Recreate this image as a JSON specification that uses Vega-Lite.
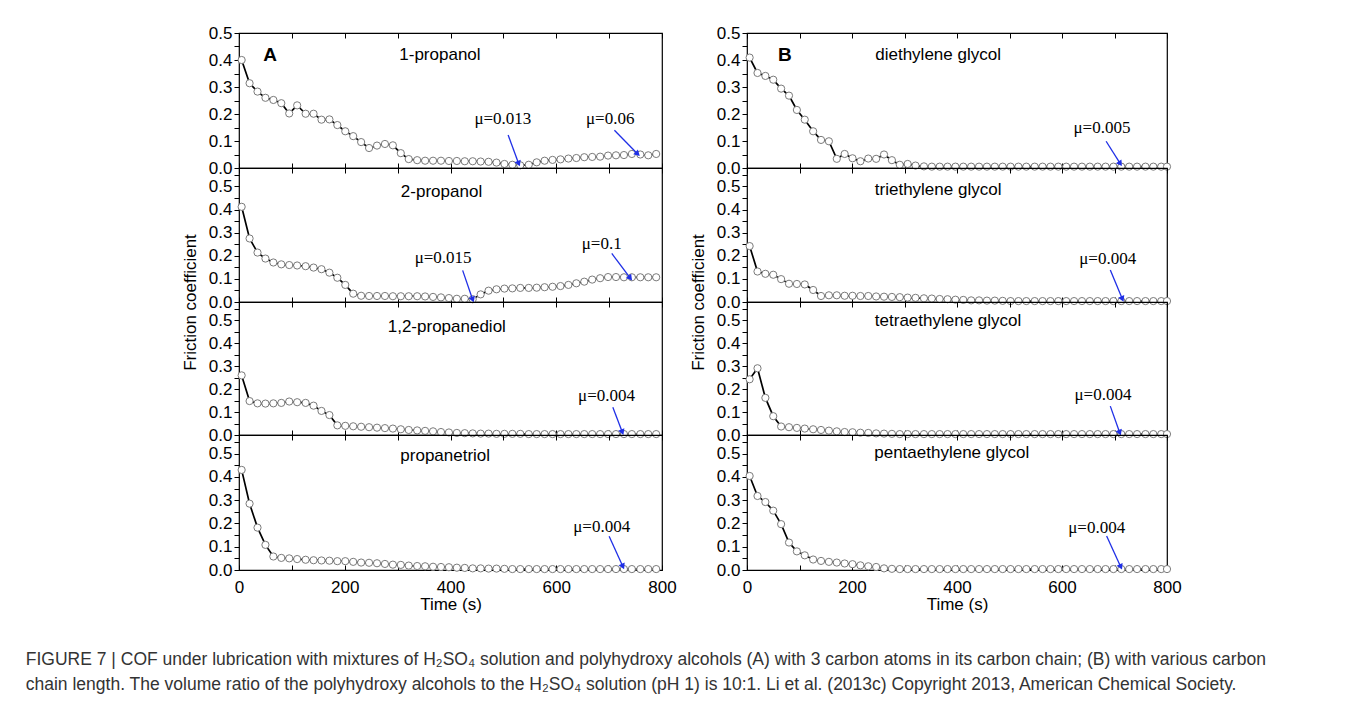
{
  "$schema": "https://vega.github.io/schema/vega-lite/v6.json",
  "background": "white",
  "padding": {"left": 25, "top": 23, "right": 5, "bottom": 5},
  "datasets": {
    "cof": [
      {"t":5,"a1":0.400,"a2":0.412,"a3":0.260,"a4":0.430,"b1":0.409,"b2":0.242,"b3":0.243,"b4":0.404},
      {"t":20,"a1":0.314,"a2":0.275,"a3":0.148,"a4":0.285,"b1":0.352,"b2":0.132,"b3":0.291,"b4":0.318},
      {"t":35,"a1":0.283,"a2":0.214,"a3":0.138,"a4":0.182,"b1":0.341,"b2":0.122,"b3":0.162,"b4":0.292},
      {"t":50,"a1":0.260,"a2":0.188,"a3":0.137,"a4":0.108,"b1":0.327,"b2":0.118,"b3":0.082,"b4":0.255},
      {"t":65,"a1":0.252,"a2":0.171,"a3":0.138,"a4":0.058,"b1":0.294,"b2":0.099,"b3":0.037,"b4":0.197},
      {"t":80,"a1":0.240,"a2":0.163,"a3":0.140,"a4":0.052,"b1":0.268,"b2":0.079,"b3":0.034,"b4":0.118},
      {"t":95,"a1":0.202,"a2":0.160,"a3":0.146,"a4":0.050,"b1":0.215,"b2":0.078,"b3":0.031,"b4":0.080},
      {"t":110,"a1":0.232,"a2":0.158,"a3":0.143,"a4":0.047,"b1":0.179,"b2":0.076,"b3":0.028,"b4":0.063},
      {"t":126,"a1":0.201,"a2":0.155,"a3":0.140,"a4":0.044,"b1":0.136,"b2":0.052,"b3":0.025,"b4":0.045},
      {"t":141,"a1":0.201,"a2":0.149,"a3":0.128,"a4":0.042,"b1":0.104,"b2":0.026,"b3":0.022,"b4":0.039},
      {"t":156,"a1":0.179,"a2":0.142,"a3":0.105,"a4":0.041,"b1":0.099,"b2":0.029,"b3":0.019,"b4":0.035},
      {"t":171,"a1":0.180,"a2":0.127,"a3":0.087,"a4":0.040,"b1":0.034,"b2":0.029,"b3":0.016,"b4":0.032},
      {"t":186,"a1":0.159,"a2":0.105,"a3":0.042,"a4":0.038,"b1":0.052,"b2":0.027,"b3":0.013,"b4":0.028},
      {"t":201,"a1":0.136,"a2":0.074,"a3":0.040,"a4":0.038,"b1":0.036,"b2":0.027,"b3":0.012,"b4":0.025},
      {"t":216,"a1":0.118,"a2":0.036,"a3":0.038,"a4":0.035,"b1":0.025,"b2":0.026,"b3":0.010,"b4":0.020},
      {"t":231,"a1":0.096,"a2":0.027,"a3":0.036,"a4":0.032,"b1":0.035,"b2":0.026,"b3":0.009,"b4":0.016},
      {"t":246,"a1":0.074,"a2":0.026,"a3":0.034,"a4":0.031,"b1":0.034,"b2":0.024,"b3":0.007,"b4":0.013},
      {"t":261,"a1":0.083,"a2":0.026,"a3":0.032,"a4":0.029,"b1":0.050,"b2":0.023,"b3":0.006,"b4":0.007},
      {"t":276,"a1":0.089,"a2":0.026,"a3":0.030,"a4":0.026,"b1":0.029,"b2":0.022,"b3":0.005,"b4":0.005},
      {"t":291,"a1":0.084,"a2":0.025,"a3":0.028,"a4":0.023,"b1":0.012,"b2":0.021,"b3":0.004,"b4":0.004},
      {"t":306,"a1":0.055,"a2":0.025,"a3":0.025,"a4":0.022,"b1":0.015,"b2":0.019,"b3":0.004,"b4":0.004},
      {"t":321,"a1":0.033,"a2":0.025,"a3":0.022,"a4":0.019,"b1":0.009,"b2":0.018,"b3":0.004,"b4":0.004},
      {"t":337,"a1":0.029,"a2":0.025,"a3":0.020,"a4":0.017,"b1":0.006,"b2":0.016,"b3":0.004,"b4":0.004},
      {"t":352,"a1":0.027,"a2":0.024,"a3":0.018,"a4":0.016,"b1":0.005,"b2":0.015,"b3":0.004,"b4":0.004},
      {"t":367,"a1":0.027,"a2":0.022,"a3":0.016,"a4":0.014,"b1":0.005,"b2":0.013,"b3":0.004,"b4":0.004},
      {"t":382,"a1":0.027,"a2":0.020,"a3":0.013,"a4":0.013,"b1":0.005,"b2":0.012,"b3":0.004,"b4":0.004},
      {"t":397,"a1":0.026,"a2":0.017,"a3":0.011,"a4":0.012,"b1":0.005,"b2":0.010,"b3":0.004,"b4":0.004},
      {"t":412,"a1":0.026,"a2":0.014,"a3":0.009,"a4":0.010,"b1":0.005,"b2":0.009,"b3":0.004,"b4":0.004},
      {"t":427,"a1":0.025,"a2":0.014,"a3":0.008,"a4":0.009,"b1":0.005,"b2":0.007,"b3":0.004,"b4":0.004},
      {"t":442,"a1":0.025,"a2":0.012,"a3":0.007,"a4":0.007,"b1":0.005,"b2":0.007,"b3":0.004,"b4":0.004},
      {"t":457,"a1":0.024,"a2":0.033,"a3":0.006,"a4":0.007,"b1":0.005,"b2":0.006,"b3":0.004,"b4":0.004},
      {"t":472,"a1":0.023,"a2":0.049,"a3":0.006,"a4":0.006,"b1":0.005,"b2":0.006,"b3":0.004,"b4":0.004},
      {"t":487,"a1":0.020,"a2":0.055,"a3":0.005,"a4":0.006,"b1":0.005,"b2":0.005,"b3":0.004,"b4":0.004},
      {"t":502,"a1":0.015,"a2":0.058,"a3":0.005,"a4":0.005,"b1":0.005,"b2":0.004,"b3":0.004,"b4":0.004},
      {"t":517,"a1":0.012,"a2":0.059,"a3":0.005,"a4":0.004,"b1":0.005,"b2":0.004,"b3":0.004,"b4":0.004},
      {"t":532,"a1":0.010,"a2":0.061,"a3":0.005,"a4":0.004,"b1":0.005,"b2":0.004,"b3":0.004,"b4":0.004},
      {"t":548,"a1":0.012,"a2":0.061,"a3":0.004,"a4":0.004,"b1":0.005,"b2":0.004,"b3":0.004,"b4":0.004},
      {"t":563,"a1":0.021,"a2":0.062,"a3":0.004,"a4":0.004,"b1":0.005,"b2":0.004,"b3":0.004,"b4":0.004},
      {"t":578,"a1":0.027,"a2":0.064,"a3":0.004,"a4":0.004,"b1":0.005,"b2":0.004,"b3":0.004,"b4":0.004},
      {"t":593,"a1":0.030,"a2":0.066,"a3":0.004,"a4":0.004,"b1":0.005,"b2":0.004,"b3":0.004,"b4":0.004},
      {"t":608,"a1":0.032,"a2":0.069,"a3":0.004,"a4":0.004,"b1":0.005,"b2":0.004,"b3":0.004,"b4":0.004},
      {"t":623,"a1":0.035,"a2":0.074,"a3":0.004,"a4":0.004,"b1":0.005,"b2":0.004,"b3":0.004,"b4":0.004},
      {"t":638,"a1":0.037,"a2":0.081,"a3":0.004,"a4":0.004,"b1":0.005,"b2":0.004,"b3":0.004,"b4":0.004},
      {"t":653,"a1":0.040,"a2":0.088,"a3":0.004,"a4":0.004,"b1":0.005,"b2":0.004,"b3":0.004,"b4":0.004},
      {"t":668,"a1":0.041,"a2":0.097,"a3":0.004,"a4":0.004,"b1":0.005,"b2":0.004,"b3":0.004,"b4":0.004},
      {"t":683,"a1":0.042,"a2":0.103,"a3":0.004,"a4":0.004,"b1":0.005,"b2":0.004,"b3":0.004,"b4":0.004},
      {"t":698,"a1":0.046,"a2":0.108,"a3":0.004,"a4":0.004,"b1":0.005,"b2":0.004,"b3":0.004,"b4":0.004},
      {"t":713,"a1":0.047,"a2":0.108,"a3":0.004,"a4":0.004,"b1":0.005,"b2":0.004,"b3":0.004,"b4":0.004},
      {"t":728,"a1":0.048,"a2":0.107,"a3":0.004,"a4":0.004,"b1":0.005,"b2":0.004,"b3":0.004,"b4":0.004},
      {"t":743,"a1":0.052,"a2":0.107,"a3":0.004,"a4":0.004,"b1":0.005,"b2":0.004,"b3":0.004,"b4":0.004},
      {"t":759,"a1":0.050,"a2":0.107,"a3":0.004,"a4":0.004,"b1":0.005,"b2":0.004,"b3":0.004,"b4":0.004},
      {"t":774,"a1":0.047,"a2":0.107,"a3":0.004,"a4":0.004,"b1":0.005,"b2":0.004,"b3":0.004,"b4":0.004},
      {"t":789,"a1":0.052,"a2":0.107,"a3":0.004,"a4":0.004,"b1":0.005,"b2":0.004,"b3":0.004,"b4":0.004},
      {"t":800,"a1":null,"a2":null,"a3":null,"a4":null,"b1":0.005,"b2":0.004,"b3":0.004,"b4":0.004}
    ],
    "titles": [
      {"p":"A1","text":"1-propanol","x":380,"y":0.42},
      {"p":"A2","text":"2-propanol","x":383,"y":0.478},
      {"p":"A3","text":"1,2-propanediol","x":393,"y":0.47},
      {"p":"A4","text":"propanetriol","x":390,"y":0.49},
      {"p":"B1","text":"diethylene glycol","x":364,"y":0.42},
      {"p":"B2","text":"triethylene glycol","x":364,"y":0.484},
      {"p":"B3","text":"tetraethylene glycol","x":383,"y":0.496},
      {"p":"B4","text":"pentaethylene glycol","x":390,"y":0.502}
    ],
    "letters": [
      {"p":"A1","text":"A","x":59,"y":0.42},
      {"p":"B1","text":"B","x":72,"y":0.42}
    ],
    "mu": [
      {"p":"A1","text":"μ=0.013","x":499,"y":0.181},
      {"p":"A1","text":"μ=0.06","x":702,"y":0.181},
      {"p":"A2","text":"μ=0.015","x":386,"y":0.191},
      {"p":"A2","text":"μ=0.1","x":686,"y":0.249},
      {"p":"A3","text":"μ=0.004","x":695,"y":0.171},
      {"p":"A4","text":"μ=0.004","x":686,"y":0.185},
      {"p":"B1","text":"μ=0.005","x":676,"y":0.147},
      {"p":"B2","text":"μ=0.004","x":687,"y":0.187},
      {"p":"B3","text":"μ=0.004","x":678,"y":0.173},
      {"p":"B4","text":"μ=0.004","x":666,"y":0.179}
    ],
    "arrows": [
      {"p":"A1","id":"A1a","x1":509,"y1":0.122,"x2":529,"y2":0.016},
      {"p":"A1","id":"A1b","x1":710,"y1":0.14,"x2":754,"y2":0.052},
      {"p":"A2","id":"A2a","x1":423,"y1":0.137,"x2":442,"y2":0.01},
      {"p":"A2","id":"A2b","x1":705,"y1":0.21,"x2":740,"y2":0.103},
      {"p":"A3","id":"A3","x1":707,"y1":0.121,"x2":725,"y2":0.012},
      {"p":"A4","id":"A4","x1":700,"y1":0.145,"x2":726,"y2":0.015},
      {"p":"B1","id":"B1","x1":684,"y1":0.099,"x2":711,"y2":0.016},
      {"p":"B2","id":"B2","x1":692,"y1":0.139,"x2":715,"y2":0.013},
      {"p":"B3","id":"B3","x1":692,"y1":0.126,"x2":710,"y2":0.01},
      {"p":"B4","id":"B4","x1":685,"y1":0.146,"x2":712,"y2":0.013}
    ]
  },
  "title": {
    "text": [
      "FIGURE 7 | COF under lubrication with mixtures of H₂SO₄ solution and polyhydroxy alcohols (A) with 3 carbon atoms in its carbon chain; (B) with various carbon",
      "chain length. The volume ratio of the polyhydroxy alcohols to the H₂SO₄ solution (pH 1) is 10:1. Li et al. (2013c) Copyright 2013, American Chemical Society."
    ],
    "orient": "bottom",
    "anchor": "start",
    "font": "Liberation Sans",
    "fontSize": 17.5,
    "fontWeight": "normal",
    "color": "#333333",
    "lineHeight": 25,
    "offset": 38,
    "dx": -155
  },
  "config": {
    "view": {"stroke": "black", "strokeWidth": 1.2},
    "axis": {
      "labelFont": "Liberation Sans",
      "labelFontSize": 17,
      "labelColor": "black",
      "tickColor": "black",
      "tickWidth": 1,
      "titleFont": "Liberation Sans",
      "titleFontSize": 17,
      "titleFontWeight": "normal",
      "titleColor": "black",
      "grid": false,
      "labelFlush": false,
      "labelOverlap": false
    },
    "line": {"color": "black", "strokeWidth": 1.7},
    "text": {"font": "Liberation Sans", "fontSize": 17, "color": "black"},
    "rule": {"color": "#1f2fe6", "strokeWidth": 1.3}
  },
  "spacing": 11,
  "hconcat": [
    {
      "spacing": 0,
      "bounds": "flush",
      "vconcat": [
        {
          "width": 423, "height": 135,
          "resolve": {"axis": {"x": "independent", "y": "independent"}},
          "layer": [
            {"data": {"name": "cof"}, "mark": {"type": "line"},
             "encoding": {
               "x": {"field": "t", "type": "quantitative", "scale": {"domain": [0, 800], "nice": false},
                     "axis": {"orient": "bottom", "values": [0,100,200,300,400,500,600,700,800], "labels": false, "tickSize": -5, "domain": false, "title": null}},
               "y": {"field": "a1", "type": "quantitative", "scale": {"domain": [0, 0.5], "nice": false},
                     "axis": {"orient": "left", "values": [0,0.05,0.1,0.15,0.2,0.25,0.3,0.35,0.4,0.45,0.5], "format": ".1f", "labelExpr": "abs(datum.value*10-round(datum.value*10))<0.001 ? datum.label : ''", "tickSize": 5, "labelPadding": 2, "domain": false, "title": null}}}},
            {"data": {"name": "cof"}, "mark": {"type": "point", "shape": "circle", "filled": true, "fill": "white", "stroke": "#7a7a7a", "strokeWidth": 1, "size": 52, "opacity": 1},
             "encoding": {
               "x": {"field": "t", "type": "quantitative", "axis": {"orient": "top", "values": [0,100,200,300,400,500,600,700,800], "labels": false, "tickSize": -5, "domain": false, "title": null}},
               "y": {"field": "a1", "type": "quantitative", "axis": null}}},
            {"data": {"name": "titles"}, "transform": [{"filter": "datum.p==='A1'"}], "mark": {"type": "text"},
             "encoding": {"x": {"field": "x", "type": "quantitative", "axis": null}, "y": {"field": "y", "type": "quantitative", "axis": null}, "text": {"field": "text"}}},
            {"data": {"name": "letters"}, "transform": [{"filter": "datum.p==='A1'"}], "mark": {"type": "text", "fontSize": 19, "fontWeight": "bold"},
             "encoding": {"x": {"field": "x", "type": "quantitative", "axis": null}, "y": {"field": "y", "type": "quantitative", "axis": null}, "text": {"field": "text"}}},
            {"data": {"name": "mu"}, "transform": [{"filter": "datum.p==='A1'"}], "mark": {"type": "text", "font": "Liberation Serif", "fontSize": 17},
             "encoding": {"x": {"field": "x", "type": "quantitative", "axis": null}, "y": {"field": "y", "type": "quantitative", "axis": null}, "text": {"field": "text"}}},
            {"data": {"name": "arrows"}, "transform": [{"filter": "datum.p==='A1'"}], "mark": {"type": "rule"},
             "encoding": {"x": {"field": "x1", "type": "quantitative", "axis": null}, "y": {"field": "y1", "type": "quantitative", "axis": null}, "x2": {"field": "x2"}, "y2": {"field": "y2"}}},
            {"data": {"name": "arrows"}, "transform": [{"filter": "datum.id==='A1a'"}], "mark": {"type": "point", "shape": "triangle-up", "filled": true, "color": "#1f2fe6", "size": 45, "opacity": 1, "angle": 158},
             "encoding": {"x": {"field": "x2", "type": "quantitative", "axis": null}, "y": {"field": "y2", "type": "quantitative", "axis": null}}},
            {"data": {"name": "arrows"}, "transform": [{"filter": "datum.id==='A1b'"}], "mark": {"type": "point", "shape": "triangle-up", "filled": true, "color": "#1f2fe6", "size": 45, "opacity": 1, "angle": 134},
             "encoding": {"x": {"field": "x2", "type": "quantitative", "axis": null}, "y": {"field": "y2", "type": "quantitative", "axis": null}}}
          ]
        },
        {
          "width": 423, "height": 134,
          "resolve": {"axis": {"x": "independent", "y": "independent"}},
          "layer": [
            {"data": {"name": "cof"}, "mark": {"type": "line"},
             "encoding": {
               "x": {"field": "t", "type": "quantitative", "scale": {"domain": [0, 800], "nice": false},
                     "axis": {"orient": "bottom", "values": [0,100,200,300,400,500,600,700,800], "labels": false, "tickSize": -5, "domain": false, "title": null}},
               "y": {"field": "a2", "type": "quantitative", "scale": {"domain": [0, 0.58], "nice": false},
                     "axis": {"orient": "left", "values": [0,0.05,0.1,0.15,0.2,0.25,0.3,0.35,0.4,0.45,0.5,0.55], "format": ".1f", "labelExpr": "abs(datum.value*10-round(datum.value*10))<0.001 ? datum.label : ''", "tickSize": 5, "labelPadding": 2, "domain": false, "title": "Friction coefficient", "titleY": 134, "titlePadding": 9}}}},
            {"data": {"name": "cof"}, "mark": {"type": "point", "shape": "circle", "filled": true, "fill": "white", "stroke": "#7a7a7a", "strokeWidth": 1, "size": 52, "opacity": 1},
             "encoding": {
               "x": {"field": "t", "type": "quantitative", "axis": {"orient": "top", "values": [0,100,200,300,400,500,600,700,800], "labels": false, "tickSize": -5, "domain": false, "title": null}},
               "y": {"field": "a2", "type": "quantitative", "axis": null}}},
            {"data": {"name": "titles"}, "transform": [{"filter": "datum.p==='A2'"}], "mark": {"type": "text"},
             "encoding": {"x": {"field": "x", "type": "quantitative", "axis": null}, "y": {"field": "y", "type": "quantitative", "axis": null}, "text": {"field": "text"}}},
            {"data": {"name": "mu"}, "transform": [{"filter": "datum.p==='A2'"}], "mark": {"type": "text", "font": "Liberation Serif", "fontSize": 17},
             "encoding": {"x": {"field": "x", "type": "quantitative", "axis": null}, "y": {"field": "y", "type": "quantitative", "axis": null}, "text": {"field": "text"}}},
            {"data": {"name": "arrows"}, "transform": [{"filter": "datum.p==='A2'"}], "mark": {"type": "rule"},
             "encoding": {"x": {"field": "x1", "type": "quantitative", "axis": null}, "y": {"field": "y1", "type": "quantitative", "axis": null}, "x2": {"field": "x2"}, "y2": {"field": "y2"}}},
            {"data": {"name": "arrows"}, "transform": [{"filter": "datum.id==='A2a'"}], "mark": {"type": "point", "shape": "triangle-up", "filled": true, "color": "#1f2fe6", "size": 45, "opacity": 1, "angle": 160},
             "encoding": {"x": {"field": "x2", "type": "quantitative", "axis": null}, "y": {"field": "y2", "type": "quantitative", "axis": null}}},
            {"data": {"name": "arrows"}, "transform": [{"filter": "datum.id==='A2b'"}], "mark": {"type": "point", "shape": "triangle-up", "filled": true, "color": "#1f2fe6", "size": 45, "opacity": 1, "angle": 142},
             "encoding": {"x": {"field": "x2", "type": "quantitative", "axis": null}, "y": {"field": "y2", "type": "quantitative", "axis": null}}}
          ]
        },
        {
          "width": 423, "height": 133,
          "resolve": {"axis": {"x": "independent", "y": "independent"}},
          "layer": [
            {"data": {"name": "cof"}, "mark": {"type": "line"},
             "encoding": {
               "x": {"field": "t", "type": "quantitative", "scale": {"domain": [0, 800], "nice": false},
                     "axis": {"orient": "bottom", "values": [0,100,200,300,400,500,600,700,800], "labels": false, "tickSize": -5, "domain": false, "title": null}},
               "y": {"field": "a3", "type": "quantitative", "scale": {"domain": [0, 0.58], "nice": false},
                     "axis": {"orient": "left", "values": [0,0.05,0.1,0.15,0.2,0.25,0.3,0.35,0.4,0.45,0.5,0.55], "format": ".1f", "labelExpr": "abs(datum.value*10-round(datum.value*10))<0.001 ? datum.label : ''", "tickSize": 5, "labelPadding": 2, "domain": false, "title": null}}}},
            {"data": {"name": "cof"}, "mark": {"type": "point", "shape": "circle", "filled": true, "fill": "white", "stroke": "#7a7a7a", "strokeWidth": 1, "size": 52, "opacity": 1},
             "encoding": {
               "x": {"field": "t", "type": "quantitative", "axis": {"orient": "top", "values": [0,100,200,300,400,500,600,700,800], "labels": false, "tickSize": -5, "domain": false, "title": null}},
               "y": {"field": "a3", "type": "quantitative", "axis": null}}},
            {"data": {"name": "titles"}, "transform": [{"filter": "datum.p==='A3'"}], "mark": {"type": "text"},
             "encoding": {"x": {"field": "x", "type": "quantitative", "axis": null}, "y": {"field": "y", "type": "quantitative", "axis": null}, "text": {"field": "text"}}},
            {"data": {"name": "mu"}, "transform": [{"filter": "datum.p==='A3'"}], "mark": {"type": "text", "font": "Liberation Serif", "fontSize": 17},
             "encoding": {"x": {"field": "x", "type": "quantitative", "axis": null}, "y": {"field": "y", "type": "quantitative", "axis": null}, "text": {"field": "text"}}},
            {"data": {"name": "arrows"}, "transform": [{"filter": "datum.p==='A3'"}], "mark": {"type": "rule"},
             "encoding": {"x": {"field": "x1", "type": "quantitative", "axis": null}, "y": {"field": "y1", "type": "quantitative", "axis": null}, "x2": {"field": "x2"}, "y2": {"field": "y2"}}},
            {"data": {"name": "arrows"}, "transform": [{"filter": "datum.id==='A3'"}], "mark": {"type": "point", "shape": "triangle-up", "filled": true, "color": "#1f2fe6", "size": 45, "opacity": 1, "angle": 158},
             "encoding": {"x": {"field": "x2", "type": "quantitative", "axis": null}, "y": {"field": "y2", "type": "quantitative", "axis": null}}}
          ]
        },
        {
          "width": 423, "height": 135,
          "resolve": {"axis": {"x": "independent", "y": "independent"}},
          "layer": [
            {"data": {"name": "cof"}, "mark": {"type": "line"},
             "encoding": {
               "x": {"field": "t", "type": "quantitative", "scale": {"domain": [0, 800], "nice": false},
                     "axis": {"orient": "bottom", "values": [0,100,200,300,400,500,600,700,800], "labelExpr": "datum.value % 200 === 0 ? datum.label : ''", "labelPadding": 14, "tickSize": -5, "domain": false, "title": "Time (s)", "titlePadding": 1}},
               "y": {"field": "a4", "type": "quantitative", "scale": {"domain": [0, 0.58], "nice": false},
                     "axis": {"orient": "left", "values": [0,0.05,0.1,0.15,0.2,0.25,0.3,0.35,0.4,0.45,0.5,0.55], "format": ".1f", "labelExpr": "abs(datum.value*10-round(datum.value*10))<0.001 ? datum.label : ''", "tickSize": 5, "labelPadding": 2, "domain": false, "title": null}}}},
            {"data": {"name": "cof"}, "mark": {"type": "point", "shape": "circle", "filled": true, "fill": "white", "stroke": "#7a7a7a", "strokeWidth": 1, "size": 52, "opacity": 1},
             "encoding": {
               "x": {"field": "t", "type": "quantitative", "axis": {"orient": "top", "values": [0,100,200,300,400,500,600,700,800], "labels": false, "tickSize": -5, "domain": false, "title": null}},
               "y": {"field": "a4", "type": "quantitative", "axis": null}}},
            {"data": {"name": "titles"}, "transform": [{"filter": "datum.p==='A4'"}], "mark": {"type": "text"},
             "encoding": {"x": {"field": "x", "type": "quantitative", "axis": null}, "y": {"field": "y", "type": "quantitative", "axis": null}, "text": {"field": "text"}}},
            {"data": {"name": "mu"}, "transform": [{"filter": "datum.p==='A4'"}], "mark": {"type": "text", "font": "Liberation Serif", "fontSize": 17},
             "encoding": {"x": {"field": "x", "type": "quantitative", "axis": null}, "y": {"field": "y", "type": "quantitative", "axis": null}, "text": {"field": "text"}}},
            {"data": {"name": "arrows"}, "transform": [{"filter": "datum.p==='A4'"}], "mark": {"type": "rule"},
             "encoding": {"x": {"field": "x1", "type": "quantitative", "axis": null}, "y": {"field": "y1", "type": "quantitative", "axis": null}, "x2": {"field": "x2"}, "y2": {"field": "y2"}}},
            {"data": {"name": "arrows"}, "transform": [{"filter": "datum.id==='A4'"}], "mark": {"type": "point", "shape": "triangle-up", "filled": true, "color": "#1f2fe6", "size": 45, "opacity": 1, "angle": 155},
             "encoding": {"x": {"field": "x2", "type": "quantitative", "axis": null}, "y": {"field": "y2", "type": "quantitative", "axis": null}}}
          ]
        }
      ]
    },
    {
      "spacing": 0,
      "bounds": "flush",
      "vconcat": [
        {
          "width": 420, "height": 135,
          "resolve": {"axis": {"x": "independent", "y": "independent"}},
          "layer": [
            {"data": {"name": "cof"}, "mark": {"type": "line"},
             "encoding": {
               "x": {"field": "t", "type": "quantitative", "scale": {"domain": [0, 800], "nice": false},
                     "axis": {"orient": "bottom", "values": [0,100,200,300,400,500,600,700,800], "labels": false, "tickSize": -5, "domain": false, "title": null}},
               "y": {"field": "b1", "type": "quantitative", "scale": {"domain": [0, 0.5], "nice": false},
                     "axis": {"orient": "left", "values": [0,0.05,0.1,0.15,0.2,0.25,0.3,0.35,0.4,0.45,0.5], "format": ".1f", "labelExpr": "abs(datum.value*10-round(datum.value*10))<0.001 ? datum.label : ''", "tickSize": 5, "labelPadding": 2, "domain": false, "title": null}}}},
            {"data": {"name": "cof"}, "mark": {"type": "point", "shape": "circle", "filled": true, "fill": "white", "stroke": "#7a7a7a", "strokeWidth": 1, "size": 52, "opacity": 1},
             "encoding": {
               "x": {"field": "t", "type": "quantitative", "axis": {"orient": "top", "values": [0,100,200,300,400,500,600,700,800], "labels": false, "tickSize": -5, "domain": false, "title": null}},
               "y": {"field": "b1", "type": "quantitative", "axis": null}}},
            {"data": {"name": "titles"}, "transform": [{"filter": "datum.p==='B1'"}], "mark": {"type": "text"},
             "encoding": {"x": {"field": "x", "type": "quantitative", "axis": null}, "y": {"field": "y", "type": "quantitative", "axis": null}, "text": {"field": "text"}}},
            {"data": {"name": "letters"}, "transform": [{"filter": "datum.p==='B1'"}], "mark": {"type": "text", "fontSize": 19, "fontWeight": "bold"},
             "encoding": {"x": {"field": "x", "type": "quantitative", "axis": null}, "y": {"field": "y", "type": "quantitative", "axis": null}, "text": {"field": "text"}}},
            {"data": {"name": "mu"}, "transform": [{"filter": "datum.p==='B1'"}], "mark": {"type": "text", "font": "Liberation Serif", "fontSize": 17},
             "encoding": {"x": {"field": "x", "type": "quantitative", "axis": null}, "y": {"field": "y", "type": "quantitative", "axis": null}, "text": {"field": "text"}}},
            {"data": {"name": "arrows"}, "transform": [{"filter": "datum.p==='B1'"}], "mark": {"type": "rule"},
             "encoding": {"x": {"field": "x1", "type": "quantitative", "axis": null}, "y": {"field": "y1", "type": "quantitative", "axis": null}, "x2": {"field": "x2"}, "y2": {"field": "y2"}}},
            {"data": {"name": "arrows"}, "transform": [{"filter": "datum.id==='B1'"}], "mark": {"type": "point", "shape": "triangle-up", "filled": true, "color": "#1f2fe6", "size": 45, "opacity": 1, "angle": 146},
             "encoding": {"x": {"field": "x2", "type": "quantitative", "axis": null}, "y": {"field": "y2", "type": "quantitative", "axis": null}}}
          ]
        },
        {
          "width": 420, "height": 134,
          "resolve": {"axis": {"x": "independent", "y": "independent"}},
          "layer": [
            {"data": {"name": "cof"}, "mark": {"type": "line"},
             "encoding": {
               "x": {"field": "t", "type": "quantitative", "scale": {"domain": [0, 800], "nice": false},
                     "axis": {"orient": "bottom", "values": [0,100,200,300,400,500,600,700,800], "labels": false, "tickSize": -5, "domain": false, "title": null}},
               "y": {"field": "b2", "type": "quantitative", "scale": {"domain": [0, 0.58], "nice": false},
                     "axis": {"orient": "left", "values": [0,0.05,0.1,0.15,0.2,0.25,0.3,0.35,0.4,0.45,0.5,0.55], "format": ".1f", "labelExpr": "abs(datum.value*10-round(datum.value*10))<0.001 ? datum.label : ''", "tickSize": 5, "labelPadding": 2, "domain": false, "title": "Friction coefficient", "titleY": 134, "titlePadding": 9}}}},
            {"data": {"name": "cof"}, "mark": {"type": "point", "shape": "circle", "filled": true, "fill": "white", "stroke": "#7a7a7a", "strokeWidth": 1, "size": 52, "opacity": 1},
             "encoding": {
               "x": {"field": "t", "type": "quantitative", "axis": {"orient": "top", "values": [0,100,200,300,400,500,600,700,800], "labels": false, "tickSize": -5, "domain": false, "title": null}},
               "y": {"field": "b2", "type": "quantitative", "axis": null}}},
            {"data": {"name": "titles"}, "transform": [{"filter": "datum.p==='B2'"}], "mark": {"type": "text"},
             "encoding": {"x": {"field": "x", "type": "quantitative", "axis": null}, "y": {"field": "y", "type": "quantitative", "axis": null}, "text": {"field": "text"}}},
            {"data": {"name": "mu"}, "transform": [{"filter": "datum.p==='B2'"}], "mark": {"type": "text", "font": "Liberation Serif", "fontSize": 17},
             "encoding": {"x": {"field": "x", "type": "quantitative", "axis": null}, "y": {"field": "y", "type": "quantitative", "axis": null}, "text": {"field": "text"}}},
            {"data": {"name": "arrows"}, "transform": [{"filter": "datum.p==='B2'"}], "mark": {"type": "rule"},
             "encoding": {"x": {"field": "x1", "type": "quantitative", "axis": null}, "y": {"field": "y1", "type": "quantitative", "axis": null}, "x2": {"field": "x2"}, "y2": {"field": "y2"}}},
            {"data": {"name": "arrows"}, "transform": [{"filter": "datum.id==='B2'"}], "mark": {"type": "point", "shape": "triangle-up", "filled": true, "color": "#1f2fe6", "size": 45, "opacity": 1, "angle": 156},
             "encoding": {"x": {"field": "x2", "type": "quantitative", "axis": null}, "y": {"field": "y2", "type": "quantitative", "axis": null}}}
          ]
        },
        {
          "width": 420, "height": 133,
          "resolve": {"axis": {"x": "independent", "y": "independent"}},
          "layer": [
            {"data": {"name": "cof"}, "mark": {"type": "line"},
             "encoding": {
               "x": {"field": "t", "type": "quantitative", "scale": {"domain": [0, 800], "nice": false},
                     "axis": {"orient": "bottom", "values": [0,100,200,300,400,500,600,700,800], "labels": false, "tickSize": -5, "domain": false, "title": null}},
               "y": {"field": "b3", "type": "quantitative", "scale": {"domain": [0, 0.58], "nice": false},
                     "axis": {"orient": "left", "values": [0,0.05,0.1,0.15,0.2,0.25,0.3,0.35,0.4,0.45,0.5,0.55], "format": ".1f", "labelExpr": "abs(datum.value*10-round(datum.value*10))<0.001 ? datum.label : ''", "tickSize": 5, "labelPadding": 2, "domain": false, "title": null}}}},
            {"data": {"name": "cof"}, "mark": {"type": "point", "shape": "circle", "filled": true, "fill": "white", "stroke": "#7a7a7a", "strokeWidth": 1, "size": 52, "opacity": 1},
             "encoding": {
               "x": {"field": "t", "type": "quantitative", "axis": {"orient": "top", "values": [0,100,200,300,400,500,600,700,800], "labels": false, "tickSize": -5, "domain": false, "title": null}},
               "y": {"field": "b3", "type": "quantitative", "axis": null}}},
            {"data": {"name": "titles"}, "transform": [{"filter": "datum.p==='B3'"}], "mark": {"type": "text"},
             "encoding": {"x": {"field": "x", "type": "quantitative", "axis": null}, "y": {"field": "y", "type": "quantitative", "axis": null}, "text": {"field": "text"}}},
            {"data": {"name": "mu"}, "transform": [{"filter": "datum.p==='B3'"}], "mark": {"type": "text", "font": "Liberation Serif", "fontSize": 17},
             "encoding": {"x": {"field": "x", "type": "quantitative", "axis": null}, "y": {"field": "y", "type": "quantitative", "axis": null}, "text": {"field": "text"}}},
            {"data": {"name": "arrows"}, "transform": [{"filter": "datum.p==='B3'"}], "mark": {"type": "rule"},
             "encoding": {"x": {"field": "x1", "type": "quantitative", "axis": null}, "y": {"field": "y1", "type": "quantitative", "axis": null}, "x2": {"field": "x2"}, "y2": {"field": "y2"}}},
            {"data": {"name": "arrows"}, "transform": [{"filter": "datum.id==='B3'"}], "mark": {"type": "point", "shape": "triangle-up", "filled": true, "color": "#1f2fe6", "size": 45, "opacity": 1, "angle": 159},
             "encoding": {"x": {"field": "x2", "type": "quantitative", "axis": null}, "y": {"field": "y2", "type": "quantitative", "axis": null}}}
          ]
        },
        {
          "width": 420, "height": 135,
          "resolve": {"axis": {"x": "independent", "y": "independent"}},
          "layer": [
            {"data": {"name": "cof"}, "mark": {"type": "line"},
             "encoding": {
               "x": {"field": "t", "type": "quantitative", "scale": {"domain": [0, 800], "nice": false},
                     "axis": {"orient": "bottom", "values": [0,100,200,300,400,500,600,700,800], "labelExpr": "datum.value % 200 === 0 ? datum.label : ''", "labelPadding": 14, "tickSize": -5, "domain": false, "title": "Time (s)", "titlePadding": 1}},
               "y": {"field": "b4", "type": "quantitative", "scale": {"domain": [0, 0.58], "nice": false},
                     "axis": {"orient": "left", "values": [0,0.05,0.1,0.15,0.2,0.25,0.3,0.35,0.4,0.45,0.5,0.55], "format": ".1f", "labelExpr": "abs(datum.value*10-round(datum.value*10))<0.001 ? datum.label : ''", "tickSize": 5, "labelPadding": 2, "domain": false, "title": null}}}},
            {"data": {"name": "cof"}, "mark": {"type": "point", "shape": "circle", "filled": true, "fill": "white", "stroke": "#7a7a7a", "strokeWidth": 1, "size": 52, "opacity": 1},
             "encoding": {
               "x": {"field": "t", "type": "quantitative", "axis": {"orient": "top", "values": [0,100,200,300,400,500,600,700,800], "labels": false, "tickSize": -5, "domain": false, "title": null}},
               "y": {"field": "b4", "type": "quantitative", "axis": null}}},
            {"data": {"name": "titles"}, "transform": [{"filter": "datum.p==='B4'"}], "mark": {"type": "text"},
             "encoding": {"x": {"field": "x", "type": "quantitative", "axis": null}, "y": {"field": "y", "type": "quantitative", "axis": null}, "text": {"field": "text"}}},
            {"data": {"name": "mu"}, "transform": [{"filter": "datum.p==='B4'"}], "mark": {"type": "text", "font": "Liberation Serif", "fontSize": 17},
             "encoding": {"x": {"field": "x", "type": "quantitative", "axis": null}, "y": {"field": "y", "type": "quantitative", "axis": null}, "text": {"field": "text"}}},
            {"data": {"name": "arrows"}, "transform": [{"filter": "datum.p==='B4'"}], "mark": {"type": "rule"},
             "encoding": {"x": {"field": "x1", "type": "quantitative", "axis": null}, "y": {"field": "y1", "type": "quantitative", "axis": null}, "x2": {"field": "x2"}, "y2": {"field": "y2"}}},
            {"data": {"name": "arrows"}, "transform": [{"filter": "datum.id==='B4'"}], "mark": {"type": "point", "shape": "triangle-up", "filled": true, "color": "#1f2fe6", "size": 45, "opacity": 1, "angle": 155},
             "encoding": {"x": {"field": "x2", "type": "quantitative", "axis": null}, "y": {"field": "y2", "type": "quantitative", "axis": null}}}
          ]
        }
      ]
    }
  ]
}
